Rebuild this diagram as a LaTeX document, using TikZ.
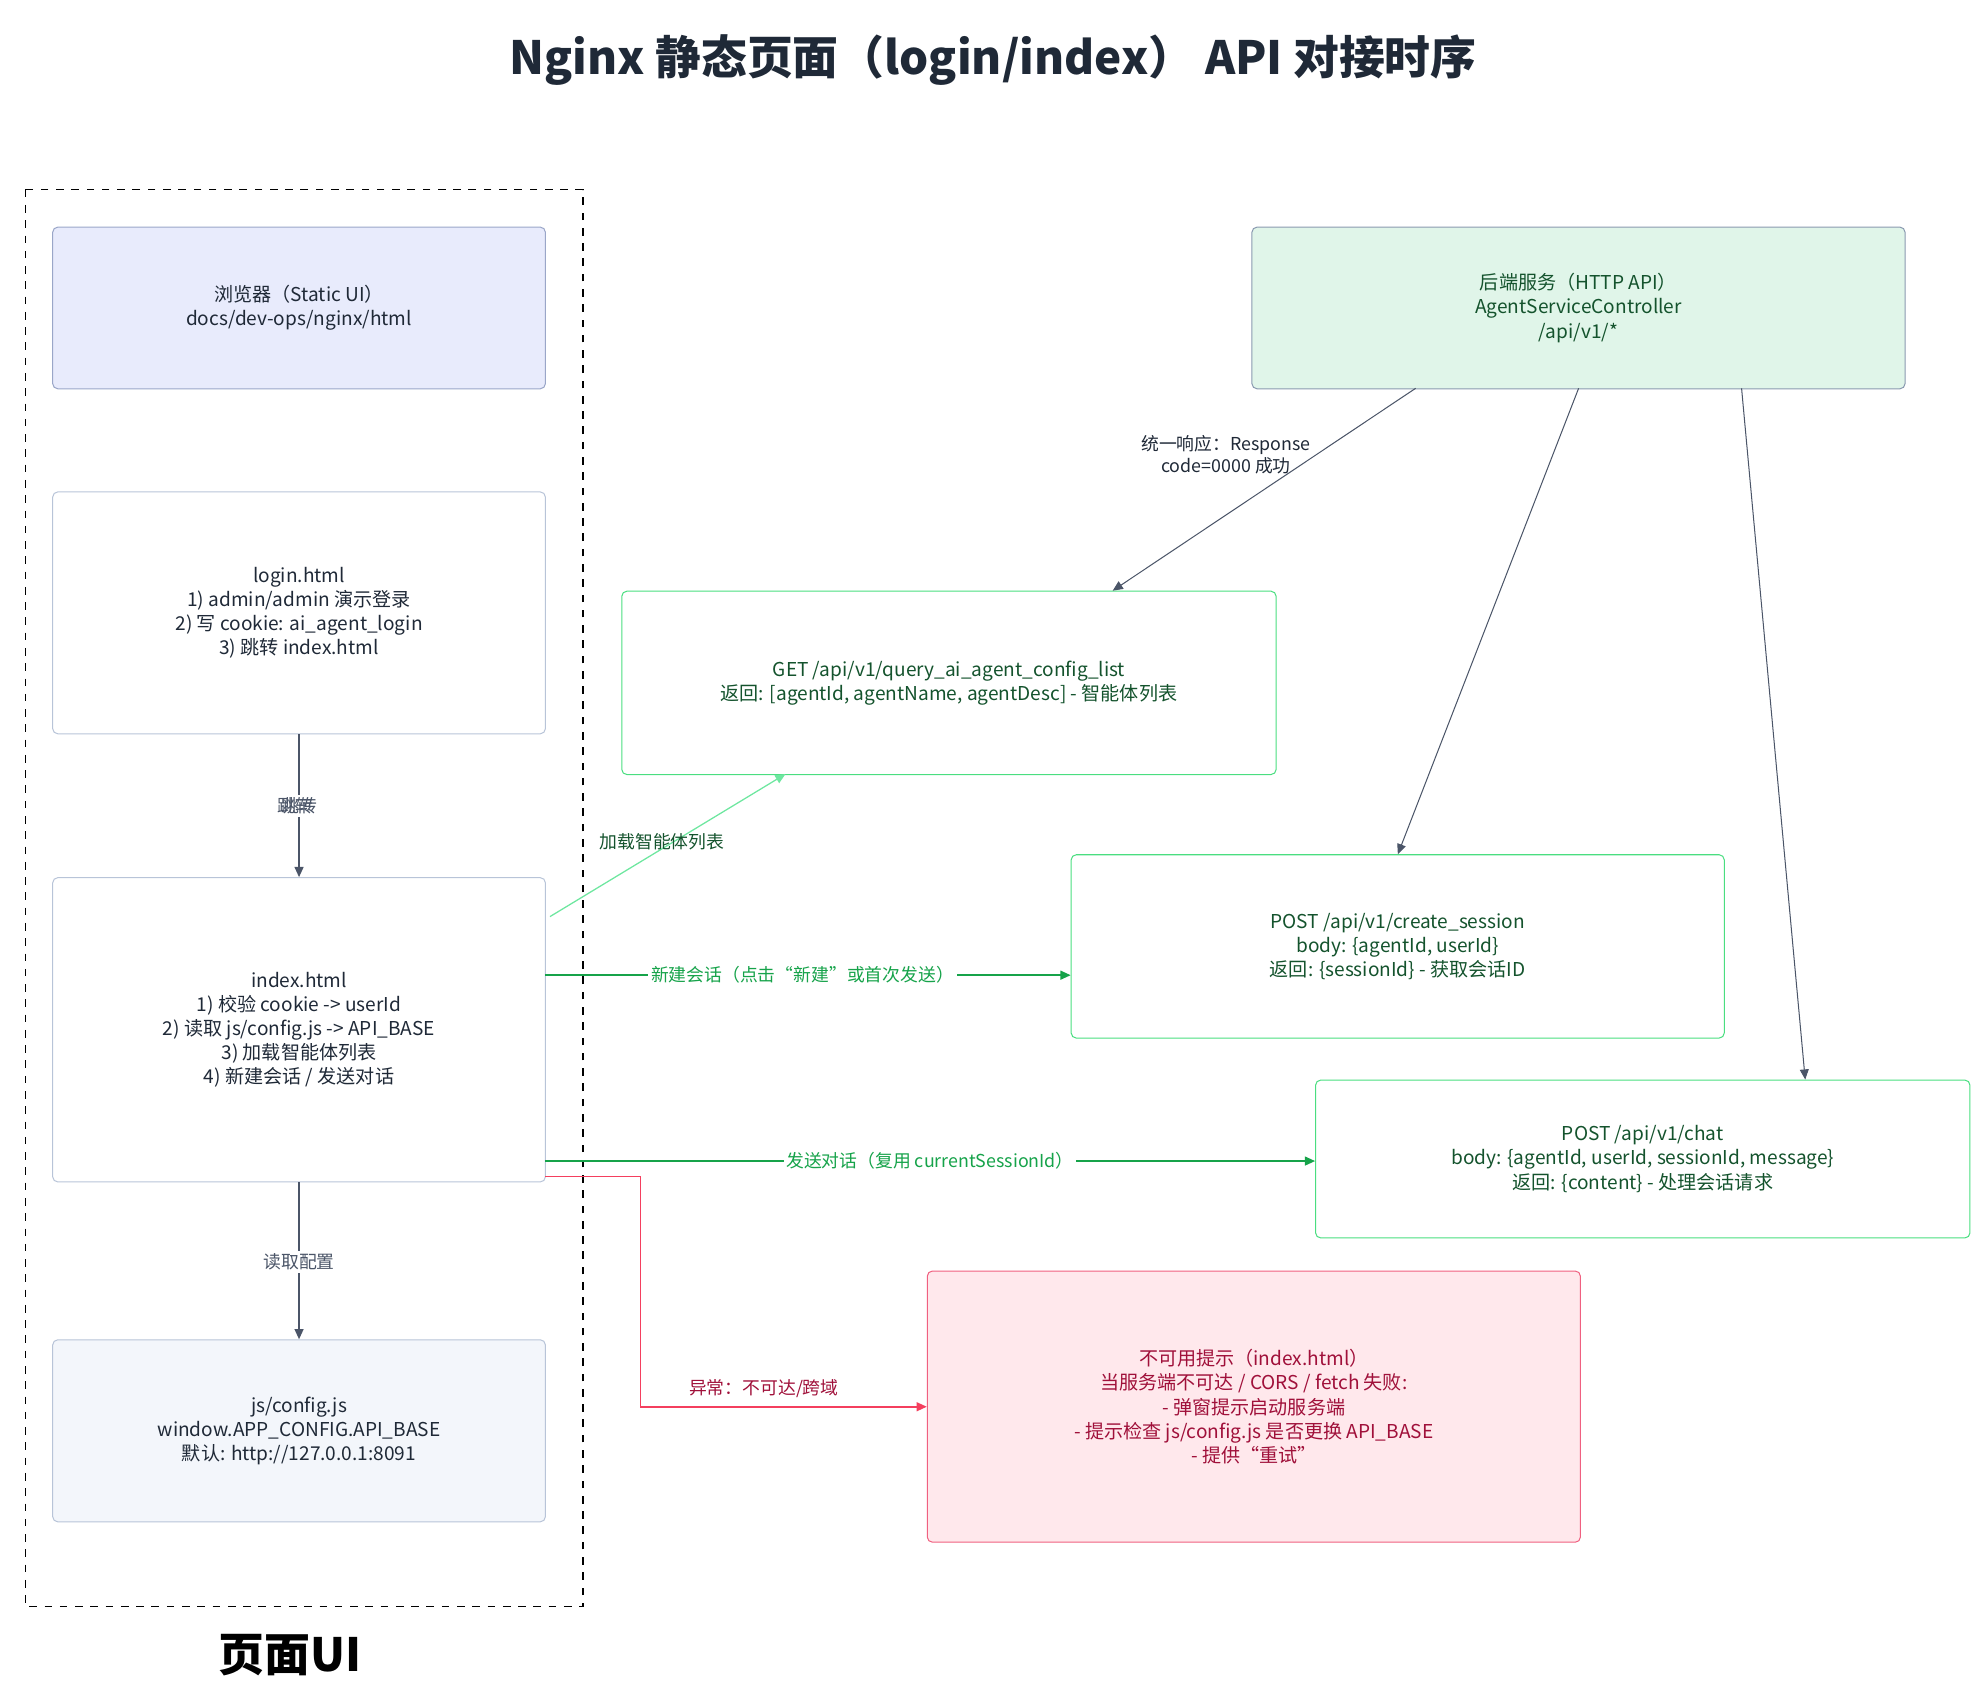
\documentclass[tikz,border=0pt]{standalone}
\usepackage{fontspec}
\setmainfont{Noto Sans CJK SC}
\usetikzlibrary{arrows.meta,positioning}

\definecolor{inkDark}{HTML}{1F2937}
\definecolor{edgeGray}{HTML}{4B5568}
\definecolor{uiFill}{HTML}{E8EBFC}
\definecolor{uiLine}{HTML}{9AA6C8}
\definecolor{boxLine}{HTML}{B8C4D8}
\definecolor{cfgFill}{HTML}{F3F6FB}
\definecolor{apiFill}{HTML}{E0F5E9}
\definecolor{apiLine}{HTML}{8A9AB0}
\definecolor{okLine}{HTML}{4ADE80}
\definecolor{okText}{HTML}{14532D}
\definecolor{okEdge}{HTML}{16A34A}
\definecolor{okLight}{HTML}{6EE7A0}
\definecolor{errFill}{HTML}{FFE8EC}
\definecolor{errLine}{HTML}{F06080}
\definecolor{errText}{HTML}{A0103A}
\definecolor{errEdge}{HTML}{F43F5E}

\tikzset{
    box/.style={draw, rounded corners=2pt, align=center, font=\fontsize{7.5}{9.5}\selectfont, text=inkDark, anchor=north west, inner sep=0pt},
    apiBox/.style={box, draw=okLine, text=okText},
    flow/.style={-{Triangle[length=4pt,width=3.5pt]}, line width=0.6pt},
    lbl/.style={fill=white, inner sep=1pt, font=\fontsize{7}{8.5}\selectfont}
}

\begin{document}
\begin{tikzpicture}[x=0.5pt, y=-0.5pt]

    \useasboundingbox (0,0) rectangle (1560,1337);

    % title
    \node[font=\bfseries\fontsize{18}{20}\selectfont, text=inkDark] (title) at (780,47) {Nginx 静态页面（login/index） API 对接时序};

    % page group
    \draw[dashed, line width=0.5pt] (20,149) rectangle (458,1262);
    \node[font=\bfseries\fontsize{18}{20}\selectfont, text=black] (groupName) at (228,1300) {页面UI};

    % left column
    \node[box, fill=uiFill, draw=uiLine, minimum width=193.5pt, minimum height=63.5pt] (browser) at (41,178)
        {浏览器（Static UI）\\docs/dev-ops/nginx/html};
    \node[box, draw=boxLine, minimum width=193.5pt, minimum height=95pt] (login) at (41,386)
        {login.html\\1) admin/admin 演示登录\\2) 写 cookie: ai\_agent\_login\\3) 跳转 index.html};
    \node[box, draw=boxLine, minimum width=193.5pt, minimum height=119.5pt] (index) at (41,689)
        {index.html\\1) 校验 cookie -> userId\\2) 读取 js/config.js -> API\_BASE\\3) 加载智能体列表\\4) 新建会话 / 发送对话};
    \node[box, fill=cfgFill, draw=boxLine, minimum width=193.5pt, minimum height=71.5pt] (config) at (41,1052)
        {js/config.js\\window.APP\_CONFIG.API\_BASE\\默认: http://127.0.0.1:8091};

    % backend and api boxes
    \node[box, fill=apiFill, draw=apiLine, text=okText, minimum width=256.5pt, minimum height=63.5pt] (backend) at (983,178)
        {后端服务（HTTP API）\\AgentServiceController\\/api/v1/*};
    \node[apiBox, minimum width=257pt, minimum height=72pt] (listApi) at (488,464)
        {GET /api/v1/query\_ai\_agent\_config\_list\\返回: [agentId, agentName, agentDesc] - 智能体列表};
    \node[apiBox, minimum width=256.5pt, minimum height=72pt] (sessionApi) at (841,671)
        {POST /api/v1/create\_session\\body: \{agentId, userId\}\\返回: \{sessionId\} - 获取会话ID};
    \node[apiBox, minimum width=257pt, minimum height=62pt] (chatApi) at (1033,848)
        {POST /api/v1/chat\\body: \{agentId, userId, sessionId, message\}\\返回: \{content\} - 处理会话请求};
    \node[box, fill=errFill, draw=errLine, text=errText, minimum width=256.5pt, minimum height=106.5pt] (errTip) at (728,998)
        {不可用提示（index.html）\\当服务端不可达 / CORS / fetch 失败:\\- 弹窗提示启动服务端\\- 提示检查 js/config.js 是否更换 API\_BASE\\- 提供“重试”};

    % left column flow
    \draw[flow, edgeGray] (login) -- node[lbl, text=edgeGray] (jumpA) {跳转} node[lbl, text=edgeGray, fill=none, xshift=-1.5pt] (jumpB) {跳转} (index);
    \draw[flow, edgeGray] (index) -- node[lbl, text=edgeGray, yshift=-0.5pt] (readCfg) {读取配置} (config);

    % page -> api calls
    \coordinate (idxList) at (432,720);
    \coordinate (listIn) at (617,608);
    \draw[flow, okLight, line width=0.5pt] (idxList) -- (listIn);
    \node[lbl, fill=none, text=okText] (loadLbl) at (520,661) {加载智能体列表};

    \coordinate (idxSession) at (428,766);
    \draw[flow, okEdge] (idxSession) -- node[lbl, text=okEdge, pos=0.49] (newLbl) {新建会话（点击“新建”或首次发送）} (idxSession -| sessionApi.west);

    \coordinate (idxChat) at (428,912);
    \draw[flow, okEdge] (idxChat) -- node[lbl, text=okEdge] (sendLbl) {发送对话（复用 currentSessionId）} (idxChat -| chatApi.west);

    \coordinate (idxErr) at (428,924);
    \coordinate (errIn) at (728,1105);
    \draw[flow, errEdge] (idxErr) -- (503,924) -- (503,1105) -- (errIn);
    \node[lbl, fill=none, text=errText] (errLbl) at (600,1091) {异常：不可达/跨域};

    % backend responses
    \coordinate (beA) at (1112,305);
    \coordinate (beB) at (1240,305);
    \coordinate (beC) at (1368,305);
    \draw[flow, edgeGray, line width=0.4pt] (beA) -- (874,464);
    \node[lbl, fill=none, text=inkDark, align=center] (respLbl) at (963,357) {统一响应：Response\\code=0000 成功};
    \draw[flow, edgeGray, line width=0.4pt] (beB) -- (1098,671);
    \draw[flow, edgeGray, line width=0.4pt] (beC) -- (1418,848);

\end{tikzpicture}
\end{document}
